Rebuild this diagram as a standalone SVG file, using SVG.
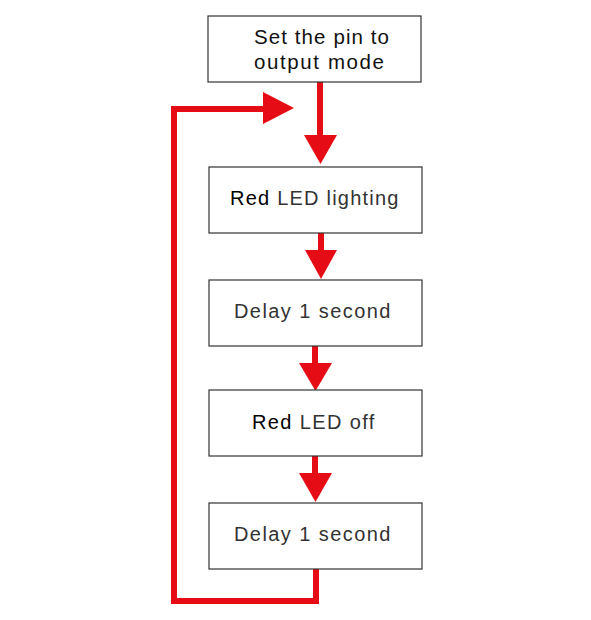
<svg xmlns="http://www.w3.org/2000/svg" width="591" height="620" viewBox="0 0 591 620">
<style>
.box{fill:#fff;stroke:#333;stroke-width:1.2}
.t{font-family:"Liberation Sans",Arial,sans-serif;font-size:20px;fill:#333;letter-spacing:0.6px}
.t1{font-family:"Liberation Sans",Arial,sans-serif;font-size:20.5px;fill:#111}
.line{fill:none;stroke:#E60C16;stroke-width:6}
.head{fill:#E60C16}
</style>
<rect width="591" height="620" fill="#fff"/>
<g id="connectors">
<line class="line" x1="320" y1="82" x2="320" y2="137"/>
<polygon class="head" points="304,135 337,135 320.5,164"/>
<line class="line" x1="321" y1="233" x2="321" y2="252"/>
<polygon class="head" points="305,250 337,250 321,279"/>
<line class="line" x1="315" y1="346" x2="315" y2="365"/>
<polygon class="head" points="299,363 332,363 315.5,391"/>
<line class="line" x1="315" y1="456" x2="315" y2="475"/>
<polygon class="head" points="299,473 332,473 315.5,502"/>
<polyline class="line" points="316,569 316,601 174,601 174,109 265,109"/>
<polygon class="head" points="263,92 263,124 294,108"/>
</g>
<g id="n1">
<rect class="box" x="208" y="16" width="213" height="66"/>
<text class="t1" x="254" y="44" textLength="135">Set the pin to</text>
<text class="t1" x="254" y="69" textLength="130">output mode</text>
</g>
<g id="n2">
<rect class="box" x="209" y="167" width="213" height="66"/>
<text class="t" x="230" y="205" textLength="169"><tspan fill="#000">Red</tspan> LED lighting</text>
</g>
<g id="n3">
<rect class="box" x="209" y="280" width="213" height="66"/>
<text class="t" x="234" y="318" textLength="157">Delay 1 second</text>
</g>
<g id="n4">
<rect class="box" x="209" y="390" width="213" height="66"/>
<text class="t" x="252" y="429" textLength="123"><tspan fill="#000">Red</tspan> LED off</text>
</g>
<g id="n5">
<rect class="box" x="209" y="503" width="213" height="66"/>
<text class="t" x="234" y="541" textLength="157">Delay 1 second</text>
</g>
</svg>
